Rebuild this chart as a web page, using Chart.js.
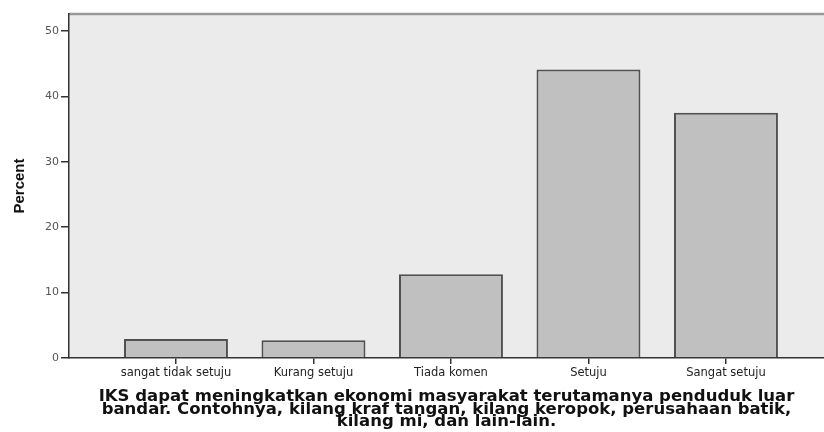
<!DOCTYPE html>
<html>
<head>
<meta charset="utf-8">
<script src="https://cdn.jsdelivr.net/npm/chart.js@4"></script>
<style>
  html, body { margin: 0; padding: 0; background: #fff; }
  #wrap { width: 824px; height: 432px; }
</style>
</head>
<body>
<div id="wrap"><canvas id="chart" width="824" height="432"></canvas></div>
<script>
const categories = ['sangat tidak setuju', 'Kurang setuju', 'Tiada komen', 'Setuju', 'Sangat setuju'];
const percents = [2.9, 2.7, 12.8, 44.1, 37.5];
const xTitleLines = [
    'IKS dapat meningkatkan ekonomi masyarakat terutamanya penduduk luar',
    'bandar. Contohnya, kilang kraf tangan, kilang keropok, perusahaan batik,',
    'kilang mi, dan lain-lain.'
];

// grey plot panel with a thin top border, like the SPSS output
const plotBackground = {
    id: 'plotBackground',
    beforeDraw(chart) {
        const { ctx, chartArea: a } = chart;
        ctx.save();
        ctx.fillStyle = '#ebebeb';
        ctx.fillRect(a.left, a.top, a.right - a.left, a.bottom - a.top);
        ctx.strokeStyle = '#999';
        ctx.lineWidth = 2.5;
        ctx.beginPath();
        ctx.moveTo(a.left, a.top);
        ctx.lineTo(a.right, a.top);
        ctx.stroke();
        ctx.restore();
    }
};

new Chart(document.getElementById('chart'), {
    type: 'bar',
    data: {
        datasets: [{
            data: percents.map((v, i) => ({ x: i + 1, y: v })),
            backgroundColor: '#c0c0c0',
            borderColor: '#505050',
            borderWidth: 2,
            barPercentage: 0.756,
            categoryPercentage: 1
        }]
    },
    options: {
        responsive: false,
        animation: false,
        layout: { padding: { top: 14, left: 0, right: 0, bottom: 0 } },
        plugins: { legend: { display: false }, tooltip: { enabled: false } },
        scales: {
            x: {
                type: 'linear',
                offset: false,
                min: 0.222,
                max: 5.713,
                afterFit: (s) => { s.height = 74; },
                grid: { offset: false, drawOnChartArea: false, tickLength: 6, color: '#333', lineWidth: 1.5 },
                border: { color: '#333', width: 1.5 },
                ticks: {
                    stepSize: 1,
                    includeBounds: false,
                    autoSkip: false,
                    maxRotation: 0,
                    padding: 2,
                    color: '#222',
                    font: { family: 'DejaVu Sans', size: 11.5 },
                    callback: (v) => categories[v - 1] ?? ''
                },
                title: {
                    display: true,
                    text: xTitleLines,
                    color: '#111',
                    font: { family: 'DejaVu Sans', size: 16.5, weight: 'bold', lineHeight: '12.5px' },
                    padding: { top: 0, bottom: 4 }
                }
            },
            y: {
                min: 0,
                max: 52.6,
                afterFit: (s) => { s.width = 69; },
                grid: { drawOnChartArea: false, tickLength: 8, color: '#333', lineWidth: 1.5 },
                border: { color: '#333', width: 1.5 },
                ticks: {
                    stepSize: 10,
                    includeBounds: false,
                    padding: 2,
                    color: '#555',
                    font: { family: 'DejaVu Sans', size: 11 }
                },
                title: {
                    display: true,
                    text: 'Percent',
                    color: '#111',
                    font: { family: 'Liberation Sans, Arial', size: 15, weight: 'bold' },
                    padding: { top: 11, bottom: 0 }
                }
            }
        }
    },
    plugins: [plotBackground]
});
</script>
</body>
</html>
